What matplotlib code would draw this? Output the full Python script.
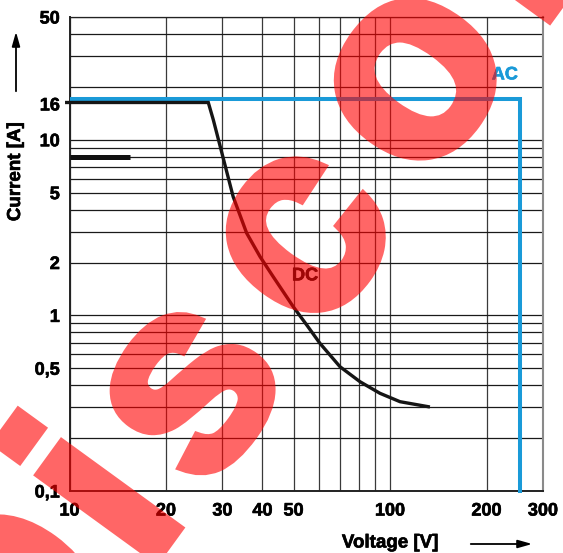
import matplotlib
matplotlib.use('Agg')
import matplotlib.pyplot as plt
import matplotlib.patheffects as pe
from matplotlib.patches import FancyArrowPatch
from matplotlib.ticker import FixedLocator, FixedFormatter, NullLocator

plt.rcParams['font.family'] = ['Liberation Sans', 'DejaVu Sans']
plt.rcParams['font.weight'] = 'bold'

W, H = 563, 553

# ---------------- data ----------------
dc_voltage = [9.8, 27.1, 28.1, 30.2, 32.4, 35.7, 39.3, 43.2, 49.9, 55.0, 60.4, 69.8, 80.6, 93.0, 107.4, 131.6]
dc_current = [16.3, 16.3, 12.97, 7.8, 4.74, 2.94, 2.16, 1.66, 1.12, 0.88, 0.694, 0.51, 0.419, 0.36, 0.3225, 0.302]

dc8_voltage = [10, 15.4]
dc8_current = [8, 8]

ac_voltage = [10, 255, 255]
ac_current = [17.0, 17.0, 0.098]

x_grid = [10, 20, 30, 40, 50, 60, 70, 80, 90, 100, 200, 300]
x_tick_values = [10, 20, 30, 40, 50, 100, 200, 300]
x_tick_labels = ['10', '20', '30', '40', '50', '100', '200', '300']

y_grid = [0.1, 0.2, 0.3, 0.4, 0.5, 0.6, 0.7, 0.8, 0.9,
          1, 2, 3, 4, 5, 6, 7, 8, 9, 10, 20, 30, 40, 50]
y_tick_values = [0.1, 0.5, 1, 2, 5, 10, 16, 50]
y_tick_labels = ['0,1', '0,5', '1', '2', '5', '10', '16', '50']

wm_letters = ['D', 'i', 's', 'c', 'o', 'l']

# ---------------- figure ----------------
fig = plt.figure(figsize=(W / 100, H / 100), dpi=100)
L, R, T, B = 69.5, 543, 17, 491
ax = fig.add_axes([L / W, (H - B) / H, (R - L) / W, (B - T) / H])
ax.set_xscale('log')
ax.set_yscale('log')
ax.set_xlim(10, 300)
ax.set_ylim(0.1, 50)

for xv in x_grid:
    ax.axvline(xv, color='#3a3a3a', lw=0.9, zorder=1)
for yv in y_grid:
    ax.axhline(yv, color='#1a1a1a', lw=0.9, zorder=1)

bold_fx = [pe.withStroke(linewidth=0.45, foreground='black')]

ax.xaxis.set_major_locator(FixedLocator(x_tick_values))
ax.xaxis.set_major_formatter(FixedFormatter(x_tick_labels))
ax.xaxis.set_minor_locator(NullLocator())
ax.yaxis.set_major_locator(FixedLocator(y_tick_values))
ax.yaxis.set_major_formatter(FixedFormatter(y_tick_labels))
ax.yaxis.set_minor_locator(NullLocator())
ax.tick_params(axis='x', length=0, pad=8.3, labelsize=13)
ax.tick_params(axis='y', length=0, pad=7, labelsize=13)
fig.canvas.draw()
for lab in ax.get_xticklabels() + ax.get_yticklabels():
    lab.set_fontweight('bold')
    lab.set_path_effects(bold_fx)

for side in ['left', 'bottom']:
    ax.spines[side].set_color('#222222')
    ax.spines[side].set_linewidth(1.4)
ax.spines['top'].set_color('#222222')
ax.spines['top'].set_linewidth(0.9)
ax.spines['right'].set_color('#8a8a8a')
ax.spines['right'].set_linewidth(1.5)

ax.plot(ac_voltage, ac_current, color='#1a9ad8', lw=2.9, zorder=3,
        solid_joinstyle='miter', solid_capstyle='butt', clip_on=False)
ax.plot(dc_voltage, dc_current, color='#151515', lw=2.4, zorder=4,
        solid_joinstyle='miter', clip_on=False)
ax.plot(dc8_voltage, dc8_current, color='#111111', lw=3.6, zorder=4,
        solid_capstyle='butt')

ax.text(228, 23.4, 'AC', color='#1a9ad8', fontsize=13, fontweight='bold',
        ha='center', va='center', zorder=5,
        path_effects=[pe.withStroke(linewidth=0.45, foreground='#1a9ad8')])
ax.text(54.3, 1.68, 'DC', color='#111111', fontsize=13, fontweight='bold',
        ha='center', va='center', zorder=5, path_effects=bold_fx)

# axis titles and arrows
fig.text(390 / W, 1 - 543 / H, 'Voltage [V]', fontsize=13.5, fontweight='bold',
         ha='center', va='center', path_effects=bold_fx)
fig.text(15.5 / W, 1 - 172 / H, 'Current [A]', fontsize=13.5, fontweight='bold',
         ha='center', va='center', rotation=90, path_effects=bold_fx)
fig.add_artist(FancyArrowPatch(
    (16 / W, 1 - 94 / H), (16 / W, 1 - 29 / H), transform=fig.transFigure,
    arrowstyle='-|>,head_length=0.85,head_width=0.24', mutation_scale=10,
    lw=1.3, color='black'))
fig.add_artist(FancyArrowPatch(
    (468 / W, 1 - 544 / H), (535 / W, 1 - 544 / H), transform=fig.transFigure,
    arrowstyle='-|>,head_length=0.85,head_width=0.24', mutation_scale=10,
    lw=1.3, color='black'))


# watermark: opaque heavy letters, made translucent as a whole by an agg filter
def wm_alpha(img, dpi):
    out = img.copy()
    out[..., 3] *= 0.6
    return out, 0, 0


wm_pos = [(136.4, 586.5, 'right'), (167.5, 543.6, 'center'), (250.1, 434.2, 'center'),
          (362.1, 279.2, 'center'), (473.5, 122.0, 'center'), (560.1, 3.4, 'center')]
for ch, (px, py, ha) in zip(wm_letters, wm_pos):
    t = fig.text(px / W, 1 - py / H, ch, fontsize=196, fontweight='bold',
                 family=['Liberation Sans', 'DejaVu Sans'],
                 color='#ff0000', rotation=54, rotation_mode='anchor',
                 ha=ha, va='baseline', zorder=10,
                 path_effects=[pe.Stroke(linewidth=7.2, foreground='#ff0000',
                                         joinstyle='miter'), pe.Normal()])
    t.set_agg_filter(wm_alpha)

fig.savefig('out.png', dpi=100)
